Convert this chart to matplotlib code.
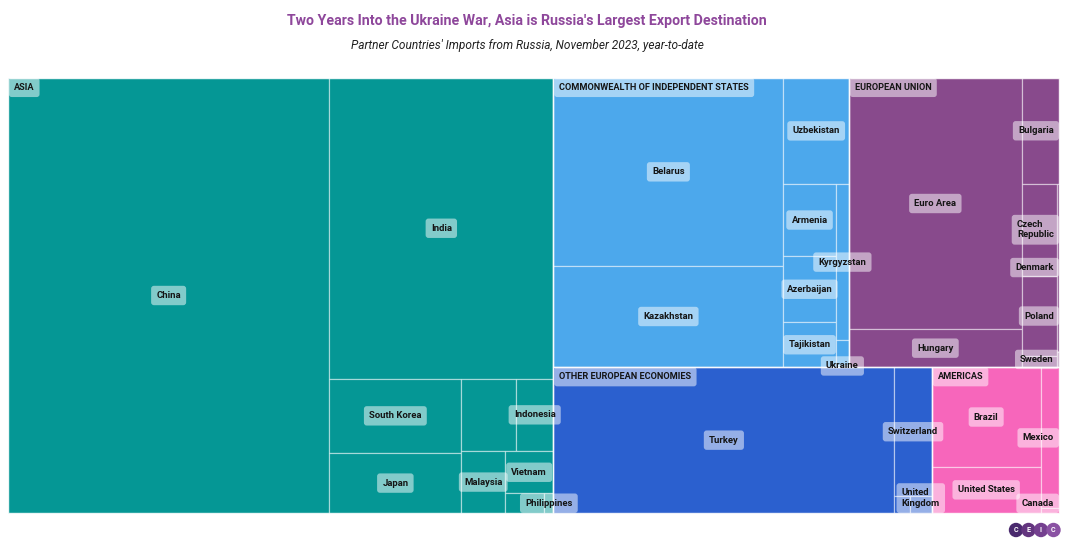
import matplotlib
matplotlib.use("Agg")
import matplotlib.pyplot as plt
from matplotlib.patches import Rectangle, Circle

TITLE = "Two Years Into the Ukraine War, Asia is Russia's Largest Export Destination"
SUBTITLE = "Partner Countries' Imports from Russia, November 2023, year-to-date"

# Imports from Russia, USD bn.
# An empty name is a tile whose label is hidden in the original chart.
REGIONS = ["ASIA", "COMMONWEALTH OF INDEPENDENT STATES", "EUROPEAN UNION",
           "OTHER EUROPEAN ECONOMIES", "AMERICAS"]

ASIA_NAMES = ["China", "India", "South Korea", "Japan", "", "Indonesia",
              "Malaysia", "Vietnam", "", "Philippines"]
ASIA_VALUES = [117.75, 56.75, 8.32, 6.66, 3.34, 2.29, 2.27, 1.72, 0.65, 0.15]

CIS_NAMES = ["Belarus", "Kazakhstan", "Uzbekistan", "Armenia", "Azerbaijan",
             "Tajikistan", "Kyrgyzstan", "", "Ukraine"]
CIS_VALUES = [36.37, 19.69, 5.85, 3.20, 2.91, 1.99, 1.75, 0.27, 0.03]

EU_NAMES = ["Euro Area", "Hungary", "Bulgaria", "Czech Republic", "Poland",
            "", "Denmark", "Sweden"]
EU_VALUES = [36.52, 5.57, 3.32, 2.73, 2.37, 0.33, 0.32, 0.03]

OEE_NAMES = ["Turkey", "Switzerland", "", "United Kingdom"]
OEE_VALUES = [41.86, 4.05, 0.22, 0.31]

AMERICAS_NAMES = ["Brazil", "United States", "Mexico", "Canada"]
AMERICAS_VALUES = [9.13, 4.25, 2.18, 0.07]

GROUPS = [(ASIA_NAMES, ASIA_VALUES), (CIS_NAMES, CIS_VALUES),
          (EU_NAMES, EU_VALUES), (OEE_NAMES, OEE_VALUES),
          (AMERICAS_NAMES, AMERICAS_VALUES)]

REGION_COLORS = ["#059795", "#4ca8ec", "#884a8c", "#2b60cf", "#f766bb"]

W_PX, H_PX = 1068, 546
PLOT = (8.0, 78.0, 1051.0, 435.0)   # x, y, width, height in pixels
LABEL_FS = 6.8
BOX_PAD = 0.55
BOX = dict(boxstyle=f"round,pad={BOX_PAD},rounding_size=0.3",
           fc=(1, 1, 1, 0.5), ec="none")


# ---------------------------------------------------------------------------
# Squarified layout (alternating direction, same rules as Highcharts)
# ---------------------------------------------------------------------------

def aspect(a, b):
    return max(a / b, b / a)


class Group:
    def __init__(self, h, w, d):
        self.height, self.width, self.direction = h, w, d
        self.total = 0.0
        self.nW = self.lW = self.nH = self.lH = 0.0
        self.els = []
        self.lR = self.nR = 0.0

    def add(self, el):
        prev = self.els[-1] if self.els else None
        self.total += el
        if self.direction == 0:
            self.lW = self.nW
            self.nW = self.total / self.height
            if prev is not None:
                self.lR = aspect(self.lW, prev / self.lW)
                self.nR = aspect(self.nW, prev / self.nW)
            else:
                self.lR = self.nR = 0.0
        else:
            self.lH = self.nH
            self.nH = self.total / self.width
            if prev is not None:
                self.lR = aspect(prev / self.lH, self.lH)
                self.nR = aspect(prev / self.nH, self.nH)
            else:
                self.lR = self.nR = 0.0
        self.els.append(el)

    def reset(self):
        self.nW = self.lW = 0.0
        self.els = []
        self.total = 0.0


def layout(values, x, y, w, h, direction=0):
    tot = float(sum(values))
    areas = [v / tot * w * h for v in values]
    g = Group(h, w, direction)
    plot = [x, y]
    out = []

    def calc(last):
        n = len(g.els) - 1
        if last:
            gW, gH = g.nW, g.nH
        else:
            gW, gH = g.lW, g.lH
            keep = g.els[n]
        for i, p in enumerate(g.els):
            if last or i < n:
                if g.direction == 0:
                    pw, ph = gW, p / gW
                    out.append((plot[0], plot[1], pw, ph))
                    plot[1] += ph
                else:
                    pw, ph = p / gH, gH
                    out.append((plot[0], plot[1], pw, ph))
                    plot[0] += pw
        g.reset()
        if g.direction == 0:
            g.width -= gW
        else:
            g.height -= gH
        plot[1] = y + (h - g.height)
        plot[0] = x + (w - g.width)
        g.direction = 1 - g.direction
        if not last:
            g.add(keep)

    for i, a in enumerate(areas):
        g.add(a)
        if g.nR > g.lR:
            calc(False)
        if i == len(areas) - 1:
            calc(True)
    return out


# ---------------------------------------------------------------------------
# Drawing
# ---------------------------------------------------------------------------

fig = plt.figure(figsize=(W_PX / 100, H_PX / 100), dpi=100)
ax = fig.add_axes([0, 0, 1, 1])
ax.set_xlim(0, W_PX)
ax.set_ylim(H_PX, 0)
ax.axis("off")
renderer = fig.canvas.get_renderer()

px0, py0, pw0, ph0 = PLOT
totals = [sum(v) for _, v in GROUPS]
region_rects = layout(totals, px0, py0, pw0, ph0)


def place_label(txt, cx, cy, cw):
    t = ax.text(cx, cy, txt, ha="center", va="center", fontsize=LABEL_FS,
                fontweight="bold", color="#151515", family="Roboto",
                multialignment="left", bbox=BOX, zorder=5)
    bb = t.get_window_extent(renderer)
    if " " in txt and bb.width > cw:
        t.set_text(txt.replace(" ", "\n", 1))
        bb = t.get_window_extent(renderer)
    pad = LABEL_FS * BOX_PAD * 100 / 72
    hw, hh = bb.width / 2 + pad, bb.height / 2 + pad
    cx = min(max(cx, px0 + hw), px0 + pw0 - hw)
    cy = min(max(cy, py0 + hh), py0 + ph0 - hh)
    t.set_position((cx, cy))


for (names, values), (rx, ry, rw, rh), color, region in zip(
        GROUPS, region_rects, REGION_COLORS, REGIONS):
    cells = layout(values, rx, ry, rw, rh)
    for name, (x, y, w, h) in zip(names, cells):
        ax.add_patch(Rectangle((x, y), w, h, fc=color,
                               ec=(1, 1, 1, 0.45), lw=0.9, zorder=2))
    ax.add_patch(Rectangle((rx, ry), rw, rh, fc="none",
                           ec=(1, 1, 1, 0.7), lw=1.0, zorder=3))
    for name, (x, y, w, h) in zip(names, cells):
        if name:
            place_label(name, x + w / 2, y + h / 2, w)
    ax.text(rx + 6, ry + 9.5, region, ha="left", va="center",
            fontsize=6.6, fontweight="bold", color="#151515",
            family="Roboto", bbox=BOX, zorder=6)

fig.text(527 / W_PX, 1 - 21 / H_PX, TITLE, ha="center", va="center",
         fontsize=10.2, fontweight="bold", color="#8e479b", family="Roboto")
fig.text(527 / W_PX, 1 - 46 / H_PX, SUBTITLE, ha="center", va="center",
         fontsize=8.6, style="italic", color="#222222", family="Roboto")

# CEIC logo
for i, (letter, c) in enumerate(zip("CEIC", ["#4a2a6e", "#63357f",
                                             "#74408f", "#8a52a3"])):
    cx = 1016 + i * 12.5
    ax.add_patch(Circle((cx, 530), 7.2, fc=c, ec="none", zorder=4 + i))
    ax.text(cx, 530.5, letter, ha="center", va="center", fontsize=5.2,
            fontweight="bold", color="white", family="Roboto", zorder=8)

fig.savefig("out.png", dpi=100)
